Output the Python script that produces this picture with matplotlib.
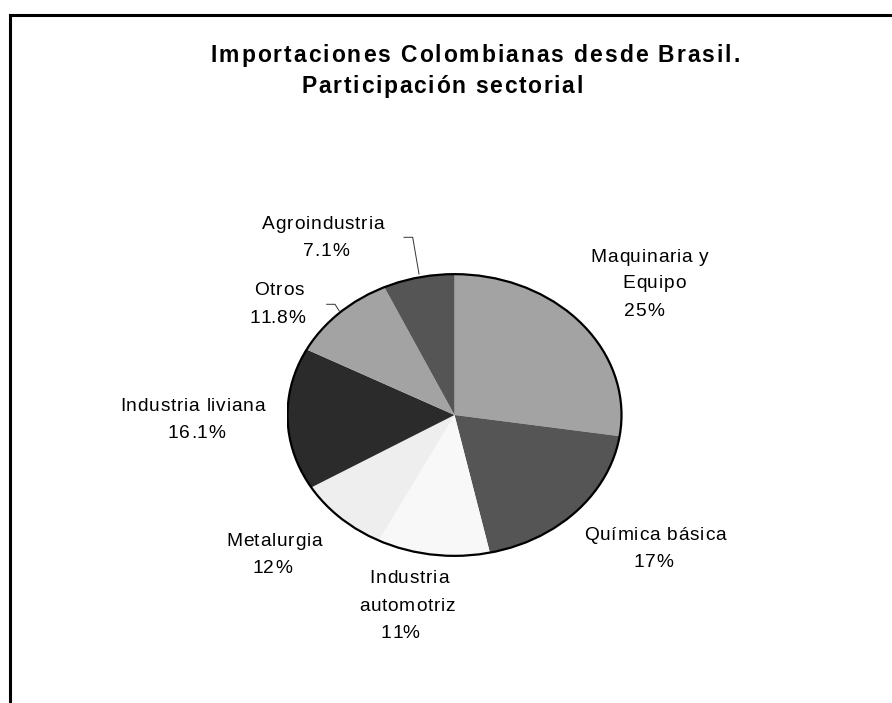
import matplotlib
matplotlib.use("Agg")
import matplotlib.pyplot as plt
from matplotlib.patches import Ellipse
from matplotlib.font_manager import FontProperties

# sectores, en el orden del grafico (desde las 12, sentido horario)
sectores = ["Maquinaria y\nEquipo", "Química básica", "Industria\nautomotriz",
            "Metalurgia", "Industria liviana", "Otros", "Agroindustria"]
# tamaño de cada porcion tal como se dibuja
porcion = [27.4, 19.2, 10.9, 8.9, 16.3, 10.4, 6.9]
# etiquetas de porcentaje que muestra el grafico
etiqueta_pct = ["25%", "17%", "11%", "12%", "16.1%", "11.8%", "7.1%"]
grises = ["#a3a3a3", "#555555", "#f8f8f8", "#eeeeee", "#2b2b2b", "#a3a3a3", "#555555"]

W, H = 892, 703
DPI = 100
plt.rcParams['font.family'] = ['Liberation Sans', 'DejaVu Sans']

fig = plt.figure(figsize=(W / DPI, H / DPI), dpi=DPI)
rend = fig.canvas.get_renderer()

# capa de fondo en pixeles para textos y marco
bg = fig.add_axes([0, 0, 1, 1])
bg.set_xlim(0, W)
bg.set_ylim(H, 0)
bg.axis('off')


def ancho(s, fp):
    return rend.get_text_width_height_descent(s, fp, ismath=False)[0]


def texto_espaciado(cx, base_y, s, size, weight='normal', ancho_obj=None, track=0.0):
    # texto con espaciado entre letras (el original lo tiene mas abierto)
    fp = FontProperties(family='Liberation Sans', size=size, weight=weight)
    ref = ancho('|', fp)
    pos = [ancho(s[:i] + '|', fp) - ref for i in range(len(s))]
    nat = ancho(s, fp)
    if ancho_obj is not None:
        track = (ancho_obj - nat) / max(len(s) - 1, 1)
    total = nat + track * (len(s) - 1)
    x0 = cx - total / 2
    for i, c in enumerate(s):
        if c != ' ':
            bg.text(x0 + pos[i] + i * track, base_y, c, fontproperties=fp,
                    ha='left', va='baseline', color='black')


# marco (solo se ve borde superior e izquierdo)
bg.plot([9.5, 9.5], [H, 15], color='black', lw=2.2, solid_capstyle='projecting')
bg.plot([9.5, W], [15, 15], color='black', lw=2.2, solid_capstyle='projecting')

texto_espaciado(475, 62, "Importaciones Colombianas desde Brasil.", 16.5, 'bold', ancho_obj=529)
texto_espaciado(442, 93, "Participación sectorial", 16.5, 'bold', ancho_obj=281)

# pastel eliptico
x0, x1, y0, y1 = 286.5, 622.5, 273.3, 556.7
ax = fig.add_axes([x0 / W, 1 - y1 / H, (x1 - x0) / W, (y1 - y0) / H])
ax.pie(porcion, colors=grises, startangle=90, counterclock=False, radius=1,
       wedgeprops=dict(linewidth=0))
ax.add_patch(Ellipse((0, 0), 2, 2, fill=False, edgecolor='black', lw=1.6))
ax.set_aspect('auto')
ax.set_xlim(-1.006, 1.006)
ax.set_ylim(-1.006, 1.006)
ax.axis('off')

# posiciones de cada renglon de las etiquetas: (centro x, linea base y)
pos_lab = [
    [(649.7, 262.3), (654, 288.5), (644, 316)],
    [(655, 539.7), (653, 566.7)],
    [(409, 582.7), (407, 610.7), (400, 637.7)],
    [(274, 545.7), (272, 573)],
    [(192.5, 410.7), (196.5, 437.7)],
    [(279, 294.7), (277, 322.7)],
    [(323, 228.7), (326, 256)],
]
for nombre, pct, renglones in zip(sectores, etiqueta_pct, pos_lab):
    lineas = nombre.split("\n") + [pct]
    for txt, (px, py) in zip(lineas, renglones):
        texto_espaciado(px, py, txt, 13.8, track=0.8)

# lineas guia
bg.plot([404, 412.7, 419], [237.3, 237.3, 274], color='#333333', lw=0.7)
bg.plot([326.7, 335, 339.3], [304.3, 304.3, 311], color='#333333', lw=0.7)

fig.savefig("out.png", dpi=DPI)
